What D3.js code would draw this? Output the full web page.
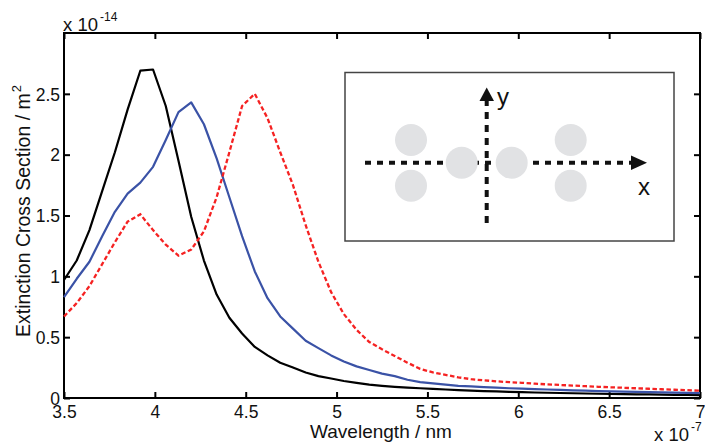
<!DOCTYPE html>
<html><head><meta charset="utf-8">
<script src="https://cdn.jsdelivr.net/npm/d3@7"></script>
<style>body{margin:0;background:#fff}svg{display:block}text{font-family:"Liberation Sans",Arial,sans-serif}</style>
</head><body><svg id="c" width="705" height="444"></svg>
<script>
// Wavelength (x 1e-7 m), sampled every 7 nm from 350 to 700 nm
const wavelength = d3.range(51).map(k => +(3.5 + 0.07 * k).toFixed(2));
// Extinction cross section (x 1e-14 m^2)
const blackSeries = [0.97,1.13,1.38,1.70,2.02,2.37,2.69,2.70,2.40,1.95,1.49,1.13,0.85,0.66,0.53,0.42,0.35,0.29,0.25,0.21,0.18,0.16,0.14,0.125,0.11,0.10,0.092,0.085,0.08,0.075,0.07,0.065,0.06,0.057,0.054,0.051,0.048,0.045,0.043,0.041,0.039,0.037,0.035,0.033,0.032,0.03,0.029,0.028,0.026,0.025,0.024];
const blueSeries = [0.83,0.98,1.12,1.33,1.53,1.68,1.77,1.90,2.12,2.35,2.43,2.25,1.97,1.65,1.33,1.04,0.82,0.67,0.57,0.47,0.41,0.35,0.30,0.26,0.23,0.20,0.18,0.15,0.13,0.12,0.11,0.10,0.095,0.09,0.085,0.08,0.077,0.073,0.07,0.066,0.063,0.06,0.057,0.055,0.052,0.05,0.048,0.046,0.044,0.042,0.04];
const redSeries = [0.67,0.78,0.92,1.10,1.28,1.45,1.51,1.38,1.26,1.17,1.22,1.37,1.65,2.02,2.40,2.50,2.30,2.02,1.75,1.42,1.12,0.87,0.69,0.56,0.46,0.40,0.345,0.29,0.24,0.21,0.19,0.17,0.155,0.145,0.137,0.13,0.125,0.118,0.112,0.107,0.102,0.097,0.092,0.088,0.084,0.08,0.076,0.072,0.068,0.064,0.06];
const xTicks = [3.5,4,4.5,5,5.5,6,6.5,7];
const yTicks = [0,0.5,1,1.5,2,2.5];

const svg = d3.select("#c");
const L = 64, R = 700, T = 33, B = 398;
const x = d3.scaleLinear().domain([3.5,7]).range([L,R]);
const y = d3.scaleLinear().domain([0,3]).range([B,T]);

const fmt = d => String(d);
const gx = svg.append("g").attr("transform",`translate(0,${B})`)
  .call(d3.axisBottom(x).tickValues(xTicks).tickFormat(fmt).tickSizeInner(-6).tickSizeOuter(0));
const gxt = svg.append("g").attr("transform",`translate(0,${T})`)
  .call(d3.axisTop(x).tickValues(xTicks).tickFormat("").tickSizeInner(-6).tickSizeOuter(0));
const gy = svg.append("g").attr("transform",`translate(${L},0)`)
  .call(d3.axisLeft(y).tickValues(yTicks).tickFormat(fmt).tickSizeInner(-6).tickSizeOuter(0).tickPadding(4));
const gyr = svg.append("g").attr("transform",`translate(${R},0)`)
  .call(d3.axisRight(y).tickValues(yTicks).tickFormat("").tickSizeInner(-6).tickSizeOuter(0));
[gx,gxt,gy,gyr].forEach(g=>{
  g.select(".domain").remove();
  g.selectAll(".tick line").attr("stroke","#000").attr("stroke-width",2);
  g.selectAll("text").attr("font-size",17.5).attr("fill","#111").attr("font-family","Liberation Sans, Arial, sans-serif");
});
gx.selectAll("text").attr("y",19.5).attr("dy",0);
gy.selectAll("text").attr("x",-4).attr("dy","0.36em");

svg.append("rect").attr("x",L).attr("y",T).attr("width",R-L).attr("height",B-T)
  .attr("fill","none").attr("stroke","#000").attr("stroke-width",2);

// series
const line = d3.line().x((d,i)=>x(wavelength[i])).y(d=>y(d));
svg.append("path").datum(blackSeries).attr("d",line).attr("fill","none").attr("stroke","#000").attr("stroke-width",2.2).attr("stroke-linejoin","round");
svg.append("path").datum(blueSeries).attr("d",line).attr("fill","none").attr("stroke","#3a52a6").attr("stroke-width",2.2).attr("stroke-linejoin","round");
svg.append("path").datum(redSeries).attr("d",line).attr("fill","none").attr("stroke","#f52222").attr("stroke-width",2.3).attr("stroke-dasharray","4.5,2.5");

// exponent labels
const e1 = svg.append("text").attr("x",63).attr("y",31).attr("font-size",18.5).attr("fill","#111");
e1.append("tspan").text("x 10");
e1.append("tspan").attr("font-size",12).attr("dx",2).attr("dy",-10).text("-14");
const e2 = svg.append("text").attr("x",654).attr("y",441).attr("font-size",18.5).attr("fill","#111");
e2.append("tspan").text("x 10");
e2.append("tspan").attr("font-size",12).attr("dx",2).attr("dy",-10).text("-7");

// axis titles
svg.append("text").attr("x",381).attr("y",437.5).attr("text-anchor","middle").attr("font-size",19).attr("fill","#111").text("Wavelength / nm");
const yl = svg.append("text").attr("transform","translate(30,211) rotate(-90)").attr("text-anchor","middle").attr("font-size",19.5).attr("fill","#111");
yl.append("tspan").text("Extinction Cross Section / m");
yl.append("tspan").attr("font-size",13).attr("dx",1).attr("dy",-9).text("2");

// inset schematic
const ins = svg.append("g");
ins.append("rect").attr("x",345).attr("y",72.5).attr("width",329).attr("height",168.5)
  .attr("fill","#fff").attr("stroke","#444").attr("stroke-width",1.5);
ins.append("line").attr("x1",365).attr("y1",162.7).attr("x2",633).attr("y2",162.7)
  .attr("stroke","#111").attr("stroke-width",4).attr("stroke-dasharray","6,6");
ins.append("polygon").attr("points","631,155.5 647,162.7 631,170").attr("fill","#111");
ins.append("line").attr("x1",486.7).attr("y1",223).attr("x2",486.7).attr("y2",100)
  .attr("stroke","#111").attr("stroke-width",4).attr("stroke-dasharray","7,6");
ins.append("polygon").attr("points","479.5,101 486.7,87.5 494,101").attr("fill","#111");
const circles = [[411,140],[411,185.7],[461.7,162.7],[511.7,162.7],[570.7,140],[570.7,185.7]];
ins.selectAll("circle.p").data(circles).enter().append("circle")
  .attr("cx",d=>d[0]).attr("cy",d=>d[1]).attr("r",16).attr("fill","#e1e2e4");
ins.append("text").attr("x",497).attr("y",105).attr("font-size",24).attr("fill","#111").attr("font-family","Lato, sans-serif").text("y");
ins.append("text").attr("x",638).attr("y",195).attr("font-size",24).attr("fill","#111").attr("font-family","Lato, sans-serif").text("x");
</script></body></html>
